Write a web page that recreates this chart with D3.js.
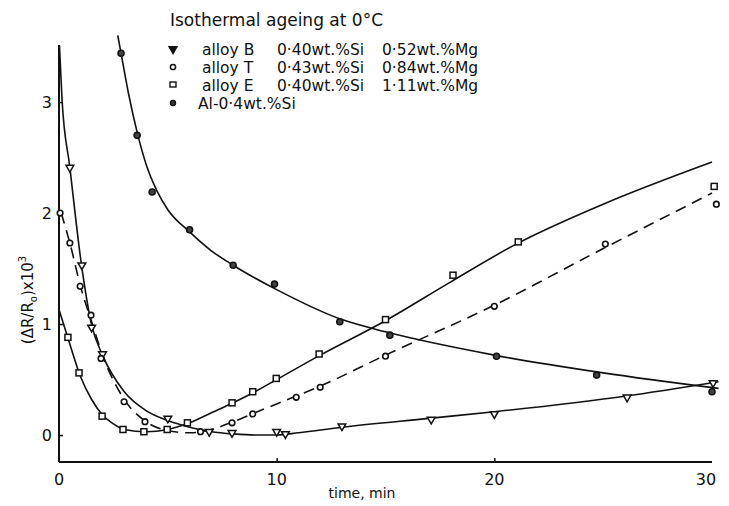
<!DOCTYPE html>
<html><head><meta charset="utf-8">
<script src="https://cdn.jsdelivr.net/npm/d3@7"></script>
<style>
html,body{margin:0;padding:0;background:#fff;}
svg text{font-family:"DejaVu Sans",sans-serif;fill:#111;}
</style></head>
<body><svg id="c" width="729" height="506"></svg>
<script>
// ---- data ----
const xTicks = [0, 10, 20, 30];
const xTickLabels = ["0", "10", "20", "30"];
const yTicks = [0, 1, 2, 3];
const yTickLabels = ["0", "1", "2", "3"];

const title = "Isothermal ageing at 0°C";
const legendNames = ["alloy B", "alloy T", "alloy E", "Al-0·4wt.%Si"];
const legendSi = ["0·40wt.%Si", "0·43wt.%Si", "0·40wt.%Si", ""];
const legendMg = ["0·52wt.%Mg", "0·84wt.%Mg", "1·11wt.%Mg", ""];

// alloy B (triangles, solid)
const bPoints = [[0.5,2.41],[1.05,1.53],[1.5,0.97],[2.0,0.73],[5.0,0.15],[6.9,0.03],[7.95,0.02],[10.0,0.03],[10.4,0.01],[13.0,0.08],[17.1,0.14],[20.0,0.19],[26.1,0.34],[30.05,0.47]];
const bCurve = [[0.02,3.51],[0.14,3.02],[0.5,2.41],[1,1.58],[1.5,0.99],[2,0.72],[3,0.39],[4,0.22],[5,0.13],[6,0.07],[7,0.03],[8,0.01],[9,0.0],[10,0.0],[11,0.02],[13,0.07],[17,0.15],[20,0.21],[26,0.35],[30.3,0.48]];

// alloy T (circles, dashed)
const tPoints = [[0.05,2.0],[0.5,1.73],[0.97,1.34],[1.47,1.08],[1.93,0.69],[2.99,0.30],[3.95,0.12],[6.5,0.03],[7.95,0.11],[8.9,0.19],[10.9,0.34],[12.0,0.43],[15.0,0.71],[20.0,1.16],[25.1,1.72],[30.2,2.08]];
const tCurve = [[0.1,2.0],[0.5,1.73],[1,1.33],[1.5,1.02],[2,0.72],[3,0.32],[4,0.12],[5,0.04],[6,0.02],[7,0.05],[8,0.12],[9,0.2],[10,0.28],[12,0.44],[15,0.72],[20,1.17],[25,1.68],[30,2.18]];

// alloy E (squares, solid)
const ePoints = [[0.41,0.88],[0.92,0.56],[1.98,0.17],[2.94,0.05],[3.9,0.03],[4.97,0.05],[5.9,0.11],[7.95,0.29],[8.9,0.39],[9.98,0.51],[11.95,0.73],[15.0,1.04],[18.1,1.44],[21.1,1.74],[30.1,2.24]];
const eCurve = [[0,1.13],[0.4,0.88],[1,0.52],[1.5,0.32],[2,0.18],[2.5,0.1],[3,0.05],[4,0.03],[5,0.05],[6,0.11],[7,0.2],[8,0.29],[9,0.39],[10,0.5],[12,0.72],[15,1.03],[18,1.38],[21,1.72],[25,2.08],[30,2.46]];

// Al-0.4wt%Si (circles, solid)
const aPoints = [[2.85,3.44],[3.59,2.70],[4.28,2.19],[6.0,1.85],[8.0,1.53],[9.9,1.36],[12.9,1.02],[15.2,0.90],[20.1,0.71],[24.7,0.54],[30.0,0.39]];
const aCurve = [[2.7,3.6],[2.85,3.44],[3.2,3.07],[3.6,2.72],[4.0,2.44],[4.5,2.2],[5,2.03],[6,1.83],[7,1.66],[8,1.53],[10,1.31],[13,1.04],[15,0.93],[20,0.72],[25,0.56],[30.3,0.42]];

// ---- layout ----
const svg = d3.select("#c");
const X0 = 59, X1 = 712, Ytop = 45, Ybot = 462;
const x = d3.scaleLinear().domain([0, 30]).range([X0, X1]);
const y = d3.scaleLinear().domain([-0.243, 3.514]).range([Ybot, Ytop]);

// axes
const xAxis = d3.axisBottom(x).tickValues(xTicks.slice(1,3)).tickSize(-4).tickFormat("").tickSizeOuter(0);
const gx = svg.append("g").attr("transform", `translate(0,${Ybot})`).call(xAxis);
const yAxis = d3.axisLeft(y).tickValues(yTicks).tickSize(-4).tickFormat("").tickSizeOuter(0);
const gy = svg.append("g").attr("transform", `translate(${X0},0)`).call(yAxis);
[gx, gy].forEach(g => {
  g.select(".domain").attr("stroke", "#111").attr("stroke-width", 2);
  g.selectAll(".tick line").attr("stroke", "#111").attr("stroke-width", 1.5);
});
gy.select(".domain").attr("d", `M0,${Ytop}V${Ybot}`);
gx.select(".domain").attr("d", `M${X0},0H${X1}`);

svg.selectAll(".xl").data(xTicks).enter().append("text")
  .attr("x", (d,i) => x(d) + (i === 3 ? -6 : 0)).attr("y", 485)
  .attr("text-anchor", "middle").attr("font-size", 16)
  .text((d,i) => xTickLabels[i]);
svg.selectAll(".yl").data(yTicks).enter().append("text")
  .attr("x", 52).attr("y", d => y(d) + 6)
  .attr("text-anchor", "end").attr("font-size", 16)
  .text((d,i) => yTickLabels[i]);

svg.append("text").attr("x", 362).attr("y", 498).attr("text-anchor", "middle")
  .attr("font-size", 14).text("time, min");

const yl = svg.append("text").attr("transform", "translate(33,300) rotate(-90)")
  .attr("text-anchor", "middle").attr("font-size", 15);
yl.append("tspan").text("(ΔR/R");
yl.append("tspan").attr("font-size", 10).attr("dy", 4).text("o");
yl.append("tspan").attr("dy", -4).text(")x10");
yl.append("tspan").attr("font-size", 10).attr("dy", -7).text("3");

// curves
const line = d3.line().x(d => x(d[0])).y(d => y(d[1])).curve(d3.curveMonotoneX);
const curves = [
  {d: bCurve, dash: null},
  {d: tCurve, dash: "11,7"},
  {d: eCurve, dash: null},
  {d: aCurve, dash: null}
];
svg.selectAll(".crv").data(curves).enter().append("path")
  .attr("d", c => line(c.d)).attr("fill", "none").attr("stroke", "#111")
  .attr("stroke-width", 1.6).attr("stroke-dasharray", c => c.dash);

// markers
const tri = d3.symbol().type(d3.symbolTriangle).size(26);
function drawTri(g, pts, fill) {
  g.selectAll(null).data(pts).enter().append("path")
    .attr("d", tri).attr("transform", d => `translate(${x(d[0])},${y(d[1])}) rotate(180)`)
    .attr("fill", fill).attr("stroke", "#111").attr("stroke-width", 1.5);
}
function drawCirc(g, pts, fill, r) {
  g.selectAll(null).data(pts).enter().append("circle")
    .attr("cx", d => x(d[0])).attr("cy", d => y(d[1])).attr("r", r)
    .attr("fill", fill).attr("stroke", "#111").attr("stroke-width", 1.6);
}
function drawSq(g, pts) {
  g.selectAll(null).data(pts).enter().append("rect")
    .attr("x", d => x(d[0]) - 3).attr("y", d => y(d[1]) - 3).attr("width", 6).attr("height", 6)
    .attr("fill", "#fff").attr("stroke", "#111").attr("stroke-width", 1.5);
}
const gm = svg.append("g");
drawTri(gm.append("g"), bPoints, "#fff");
drawCirc(gm.append("g"), tPoints, "#fff", 2.8);
drawSq(gm.append("g"), ePoints);
drawCirc(gm.append("g"), aPoints, "#444", 3);

// title and legend
svg.append("text").attr("x", 170).attr("y", 26).attr("font-size", 17).text(title);
const rowY = [49, 67, 85, 103];
const lg = svg.append("g");
drawTri(lg.append("g").attr("class","l0"), [[0,0]], "#111");
lg.select(".l0 path").attr("transform", `translate(173,${rowY[0]}) rotate(180)`);
lg.append("circle").attr("cx", 173).attr("cy", rowY[1]).attr("r", 2.6).attr("fill", "#fff").attr("stroke", "#111").attr("stroke-width", 1.5);
lg.append("rect").attr("x", 170).attr("y", rowY[2] - 3).attr("width", 6).attr("height", 5).attr("fill", "#fff").attr("stroke", "#111").attr("stroke-width", 1.4);
lg.append("circle").attr("cx", 173).attr("cy", rowY[3]).attr("r", 2.6).attr("fill", "#333").attr("stroke", "#111").attr("stroke-width", 1.2);
legendNames.forEach((n, i) => {
  lg.append("text").attr("x", i === 3 ? 198 : 202).attr("y", rowY[i] + 6).attr("font-size", 15.5).text(n);
  if (legendSi[i]) lg.append("text").attr("x", 277).attr("y", rowY[i] + 6).attr("font-size", 15.5).text(legendSi[i]);
  if (legendMg[i]) lg.append("text").attr("x", 382).attr("y", rowY[i] + 6).attr("font-size", 15.5).text(legendMg[i]);
});
</script></body></html>
